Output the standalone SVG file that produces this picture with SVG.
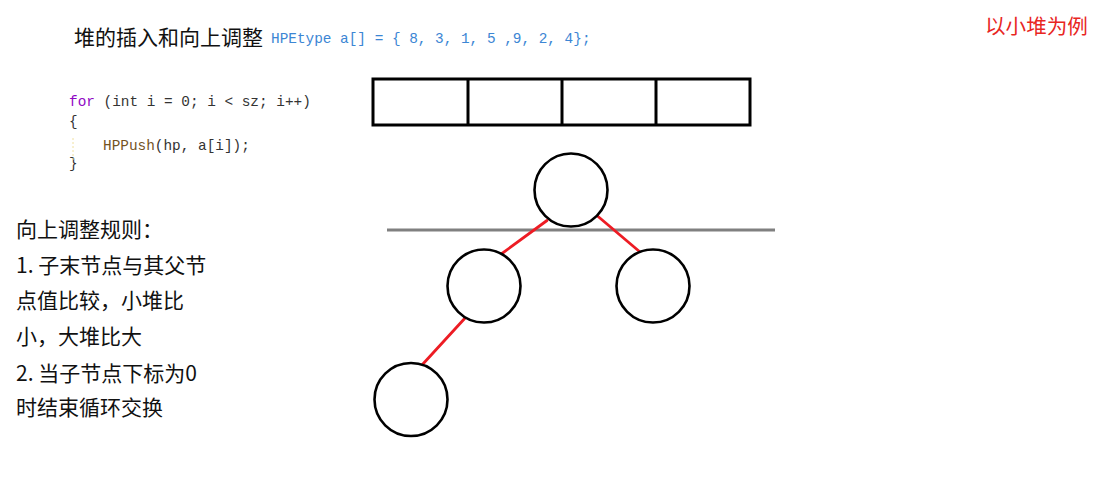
<svg xmlns="http://www.w3.org/2000/svg" width="1110" height="497" viewBox="0 0 1110 497">
<style>
.cjk{font-family:"Microsoft YaHei","Noto Sans CJK SC","Noto Sans",sans-serif;font-size:21px;fill:#111}
.code{font-family:"Liberation Mono","DejaVu Sans Mono",monospace;font-size:14.4px;fill:#333}
.node{fill:#fff;stroke:#000;stroke-width:2.6}
.edge{stroke:#ed1c24;stroke-width:2.8;stroke-linecap:round}
.cell{fill:none;stroke:#000;stroke-width:3}
</style>
<rect width="1110" height="497" fill="#fff"/>
<g id="title">
<text class="cjk" x="74" y="45">堆的插入和向上调整</text>
<text class="code" x="271" y="43" style="fill:#3c86d4">HPEtype a[] = { 8, 3, 1, 5 ,9, 2, 4};</text>
</g>
<text id="note" class="cjk" x="985" y="34" style="fill:#e8261f;font-size:20.6px">以小堆为例</text>
<g id="code">
<text class="code" x="69" y="106"><tspan fill="#8f08c4">for</tspan> (int i = 0; i &lt; sz; i++)</text>
<text class="code" x="69" y="126">{</text>
<text class="code" x="103" y="150"><tspan fill="#74531f">HPPush</tspan>(hp, a[i]);</text>
<text class="code" x="69" y="168">}</text>
<line x1="73" y1="138" x2="73" y2="162" stroke="#f0e0a0" stroke-width="1" stroke-dasharray="2,2"/>
</g>
<g id="rules" class="cjk">
<text x="16" y="237">向上调整规则：</text>
<text x="16" y="273">1. 子末节点与其父节</text>
<text x="16" y="308">点值比较，小堆比</text>
<text x="16" y="344">小，大堆比大</text>
<text x="16" y="381">2. 当子节点下标为0</text>
<text x="16" y="415">时结束循环交换</text>
</g>
<g id="array">
<rect class="cell" x="373" y="79" width="377" height="46"/>
<line class="cell" x1="468" y1="79" x2="468" y2="125"/>
<line class="cell" x1="562" y1="79" x2="562" y2="125"/>
<line class="cell" x1="656" y1="79" x2="656" y2="125"/>
</g>
<line id="divider" x1="387" y1="230" x2="775" y2="230" stroke="#808080" stroke-width="3"/>
<g id="connectors">
<line class="edge" x1="547" y1="220.5" x2="502" y2="253.5"/>
<line class="edge" x1="597.5" y1="216" x2="640" y2="252"/>
<line class="edge" x1="466" y1="317" x2="422" y2="365"/>
</g>
<g id="n0"><circle class="node" cx="571" cy="190" r="36.5"/></g>
<g id="n1"><circle class="node" cx="484" cy="286" r="36.5"/></g>
<g id="n2"><circle class="node" cx="653" cy="286" r="36.5"/></g>
<g id="n3"><circle class="node" cx="411" cy="399.5" r="36.5"/></g>
</svg>
